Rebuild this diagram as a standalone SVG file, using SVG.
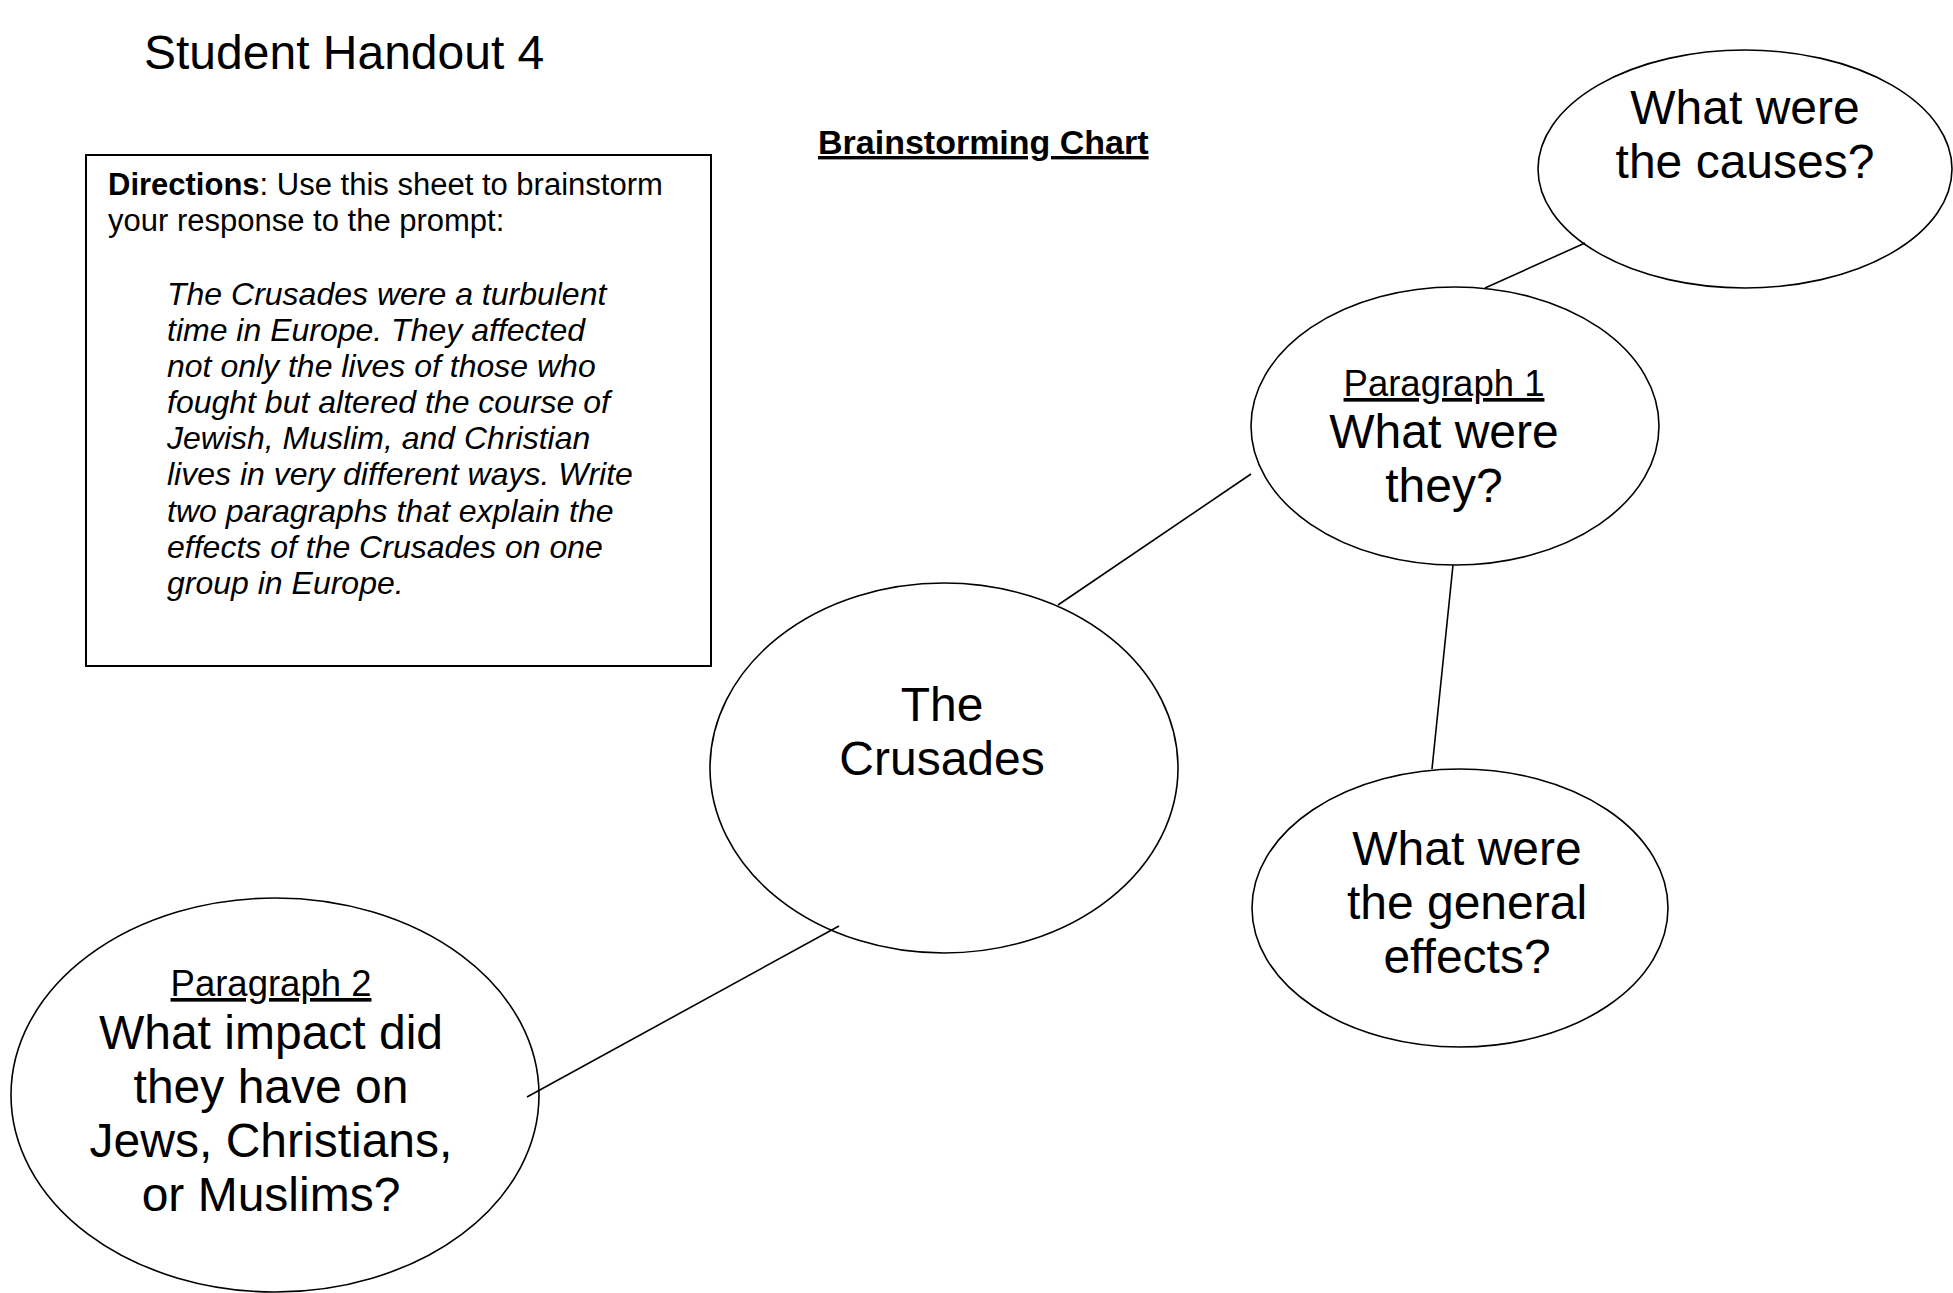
<svg xmlns="http://www.w3.org/2000/svg" width="1953" height="1293" viewBox="0 0 1953 1293">
  <style>
    text { font-family: "Liberation Sans", Arial, sans-serif; fill: #000; }
    .title { font-size: 48px; }
    .heading { font-size: 34px; font-weight: bold; text-decoration: underline; }
    .dir { font-size: 31px; }
    .prompt { font-size: 32px; font-style: italic; }
    .q { font-size: 48px; text-anchor: middle; }
    .para { font-size: 36.5px; text-anchor: middle; text-decoration: underline; }
    .bubble { fill: #fff; stroke: #000; stroke-width: 1.6; }
    .link { stroke: #000; stroke-width: 1.6; fill: none; }
  </style>

  <rect width="1953" height="1293" fill="#fff"/>

  <text class="title" x="144" y="69">Student Handout 4</text>
  <text class="heading" x="818" y="154">Brainstorming Chart</text>

  <!-- directions box -->
  <g id="directions">
    <rect x="86" y="155" width="625" height="511" fill="#fff" stroke="#000" stroke-width="2"/>
    <text class="dir" x="108" y="195"><tspan font-weight="bold">Directions</tspan>: Use this sheet to brainstorm</text>
    <text class="dir" x="108" y="231">your response to the prompt:</text>
    <text class="prompt" x="167">
      <tspan x="167" y="305">The Crusades were a turbulent</tspan>
      <tspan x="167" y="341">time in Europe. They affected</tspan>
      <tspan x="167" y="377">not only the lives of those who</tspan>
      <tspan x="167" y="413">fought but altered the course of</tspan>
      <tspan x="167" y="449">Jewish, Muslim, and Christian</tspan>
      <tspan x="167" y="485">lives in very different ways. Write</tspan>
      <tspan x="167" y="522">two paragraphs that explain the</tspan>
      <tspan x="167" y="558">effects of the Crusades on one</tspan>
      <tspan x="167" y="594">group in Europe.</tspan>
    </text>
  </g>

  <g id="causes">
    <ellipse class="bubble" cx="1745" cy="169" rx="207" ry="119"/>
    <text class="q" x="1745" y="124">What were</text>
    <text class="q" x="1745" y="178">the causes?</text>
  </g>

  <g id="paragraph1">
    <ellipse class="bubble" cx="1455" cy="426" rx="204" ry="139"/>
    <text class="para" x="1444" y="396">Paragraph 1</text>
    <text class="q" x="1444" y="448">What were</text>
    <text class="q" x="1444" y="502">they?</text>
  </g>

  <g id="crusades">
    <ellipse class="bubble" cx="944" cy="768" rx="234" ry="185"/>
    <text class="q" x="942" y="721">The</text>
    <text class="q" x="942" y="775">Crusades</text>
  </g>

  <g id="effects">
    <ellipse class="bubble" cx="1460" cy="908" rx="208" ry="139"/>
    <text class="q" x="1467" y="865">What were</text>
    <text class="q" x="1467" y="919">the general</text>
    <text class="q" x="1467" y="973">effects?</text>
  </g>

  <g id="paragraph2">
    <ellipse class="bubble" cx="275" cy="1095" rx="264" ry="197"/>
    <text class="para" x="271" y="996">Paragraph 2</text>
    <text class="q" x="271" y="1049">What impact did</text>
    <text class="q" x="271" y="1103">they have on</text>
    <text class="q" x="271" y="1157">Jews, Christians,</text>
    <text class="q" x="271" y="1211">or Muslims?</text>
  </g>

  <!-- connectors, drawn over the bubbles so their ends show -->
  <g id="connectors">
    <line class="link" x1="1585" y1="243" x2="1485" y2="288"/>
    <line class="link" x1="1251" y1="474" x2="1058" y2="605"/>
    <line class="link" x1="1453" y1="565" x2="1432" y2="769"/>
    <line class="link" x1="839" y1="926" x2="527" y2="1097"/>
  </g>
</svg>
